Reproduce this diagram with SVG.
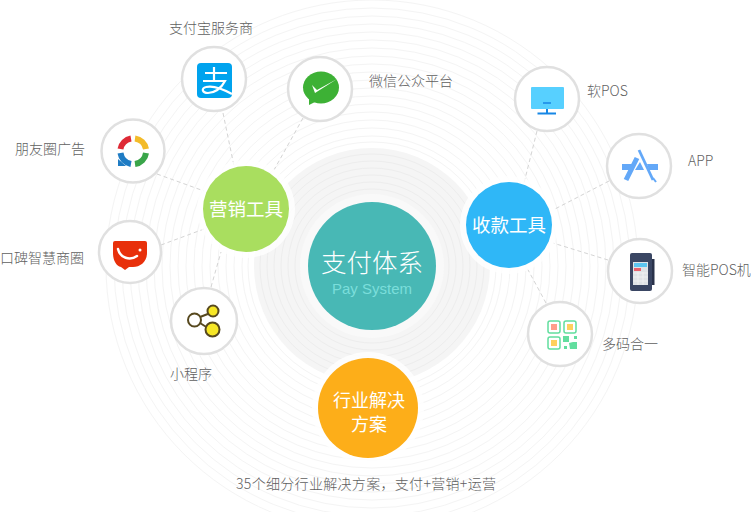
<svg xmlns="http://www.w3.org/2000/svg" width="752" height="512" viewBox="0 0 752 512">
<defs><style>
text{font-family:"Noto Sans CJK SC","Liberation Sans",sans-serif;font-weight:300}
.r{fill:none;stroke:#f4f4f4;stroke-width:1}
.rd{fill:none;stroke:#ededed;stroke-width:1}
.c{stroke:#d4d4d4;stroke-width:1;stroke-dasharray:4 3;fill:none}
.n{fill:#fff;stroke:#e0e0e0;stroke-width:2.5}
.l{font-size:14px;fill:#5f5f5f}
.m{fill:#fff;font-size:18.500px;text-anchor:middle;font-weight:400}
</style></defs>
<rect width="752" height="512" fill="#fff"/>
<g id="rings">
<circle cx="372" cy="266" r="118" fill="#f5f5f5"/>
<circle cx="372" cy="266" r="72" fill="#f9f9f9"/>
<circle class="r" cx="372" cy="266" r="266"/><circle class="r" cx="372" cy="266" r="258"/><circle class="r" cx="372" cy="266" r="250"/><circle class="r" cx="372" cy="266" r="242"/><circle class="r" cx="372" cy="266" r="234"/><circle class="r" cx="372" cy="266" r="226"/><circle class="r" cx="372" cy="266" r="218"/><circle class="r" cx="372" cy="266" r="210"/><circle class="r" cx="372" cy="266" r="202"/><circle class="r" cx="372" cy="266" r="194"/><circle class="r" cx="372" cy="266" r="186"/><circle class="r" cx="372" cy="266" r="178"/><circle class="r" cx="372" cy="266" r="170"/><circle class="r" cx="372" cy="266" r="162"/><circle class="r" cx="372" cy="266" r="154"/><circle class="r" cx="372" cy="266" r="146"/><circle class="r" cx="372" cy="266" r="138"/><circle class="r" cx="372" cy="266" r="130"/><circle class="r" cx="372" cy="266" r="124"/>
<circle class="rd" cx="372" cy="266" r="112"/><circle class="rd" cx="372" cy="266" r="105"/><circle class="rd" cx="372" cy="266" r="98"/><circle class="rd" cx="372" cy="266" r="91"/><circle class="rd" cx="372" cy="266" r="84"/><circle class="rd" cx="372" cy="266" r="77"/>
</g>
<g id="connectors">
<line class="c" x1="223" y1="113" x2="234" y2="166"/>
<line class="c" x1="303" y1="118" x2="274" y2="170"/>
<line class="c" x1="157" y1="174" x2="204" y2="191"/>
<line class="c" x1="161" y1="245" x2="204" y2="229"/>
<line class="c" x1="211" y1="287" x2="221" y2="252"/>
<line class="c" x1="537" y1="131" x2="524" y2="183"/>
<line class="c" x1="609" y1="181" x2="553" y2="210"/>
<line class="c" x1="608" y1="260" x2="553" y2="243"/>
<line class="c" x1="546" y1="303" x2="527" y2="268"/>
</g>
<g id="center"><circle cx="372" cy="266" r="64" fill="#48b8b5"/>
<text x="372" y="272" text-anchor="middle" font-size="25.500" fill="#fff">支付体系</text>
<text x="372" y="294" text-anchor="middle" font-size="15" fill="#7bdedb" style="font-family:'Liberation Sans',sans-serif">Pay System</text></g>
<g id="marketing"><circle cx="246" cy="209" r="49" fill="#fff" fill-opacity=".8"/><circle cx="246" cy="209" r="43" fill="#a9de5f"/><text class="m" x="246" y="216">营销工具</text></g>
<g id="collect"><circle cx="509" cy="225" r="49" fill="#fff" fill-opacity=".8"/><circle cx="509" cy="225" r="43" fill="#2fb7f7"/><text class="m" x="509" y="232">收款工具</text></g>
<g id="industry"><circle cx="368" cy="408" r="56" fill="#fff" fill-opacity=".8"/><circle cx="368" cy="408" r="50" fill="#fdae19"/><text class="m" style="font-size:18px" x="369" y="407">行业解决</text><text class="m" style="font-size:18px" x="369" y="431">方案</text></g>
<g id="alipay"><circle class="n" cx="214" cy="79" r="32"/><rect x="197" y="63" width="35" height="35" rx="4" fill="#00a3ee"/>
<path d="M205 73h22M214 67v15M203 81h22c-4 8-11 12-17 12-6 0-7-5-2-6 8-2 17 2 26 7" fill="none" stroke="#fff" stroke-width="2.200"/></g>
<g id="wechat"><circle class="n" cx="320" cy="89" r="32"/><ellipse cx="321" cy="87.500" rx="18" ry="16" fill="#3db135"/><path d="M309 98l0 7 8-4z" fill="#3db135"/>
<path d="M312 85l5 5 20-11-22 14z" fill="#fff"/></g>
<g id="moments"><circle class="n" cx="133" cy="151" r="31.500"/>
<g fill="none" stroke-width="6"><path d="M120.500 149a13 13 0 0 1 10.500-10.500" stroke="#de2a36"/><path d="M135 138.500a13 13 0 0 1 11 10.500" stroke="#f3bb29"/><path d="M146 153a13 13 0 0 1-11 11" stroke="#3aa54a"/><path d="M120.500 153a13 13 0 0 0 10.500 11" stroke="#1f7cc4"/></g><path d="M118 159l0 7 8 0z" fill="#1f7cc4"/></g>
<g id="koubei"><circle class="n" cx="130" cy="252" r="31"/><path d="M113 243q0-2 2-2h30q2 0 2 2v10c0 9-7 14-14 14h-4l-4 3-4-3c-5-1-8-7-8-14z" fill="#e8300b"/><path d="M118 249c2 9 12 12 19 7" fill="none" stroke="#fff" stroke-width="2.500" stroke-linecap="round"/><circle cx="140" cy="250" r="1.500" fill="#fff"/></g>
<g id="miniapp"><circle class="n" cx="204" cy="321" r="33"/>
<path d="M200 317l13-5M200 323l11 7" stroke="#57491f" stroke-width="2"/>
<circle cx="194.500" cy="320" r="6.500" fill="#fff" stroke="#57491f" stroke-width="2"/><circle cx="213" cy="311" r="5.500" fill="#f7e726" stroke="#57491f" stroke-width="2"/><circle cx="212.500" cy="329.500" r="7" fill="#f7e726" stroke="#57491f" stroke-width="2"/></g>
<g id="softpos"><circle class="n" cx="547" cy="99" r="32"/><rect x="531" y="87" width="33" height="22" rx="1" fill="#57d0ff"/><path d="M543 103h8" stroke="#1787e6" stroke-width="1.500"/><path d="M547 109v4M537.500 113.500h18.500" stroke="#1787e6" stroke-width="2"/></g>
<g id="app"><circle class="n" cx="639" cy="166" r="32"/><path d="M622 164h11l-3 6h-8zM640 162l4 8h-9zM647 164h11v6h-9z" fill="#63a8f8"/><path d="M637 158l-11 22" stroke="#63a8f8" stroke-width="5" fill="none"/><path d="M639 150l14 30" stroke="#63a8f8" stroke-width="2.800" fill="none"/><path d="M653 178l3 4" stroke="#63a8f8" stroke-width="2" fill="none"/></g>
<g id="smartpos"><circle class="n" cx="640" cy="271" r="32"/><rect x="630" y="253" width="22" height="38" rx="2" fill="#3a4663"/><rect x="652" y="259" width="2.500" height="26" fill="#29324a"/><rect x="633" y="262" width="15" height="23" fill="#dfe3e6"/><rect x="634" y="263" width="13" height="4" fill="#5cc5f0"/><rect x="634" y="268" width="7" height="3" fill="#e8616c"/><path d="M633 273h15M633 277h15M633 281h15M638 272v13M643 272v13" stroke="#f2f3f4" stroke-width=".8"/></g>
<g id="multicode"><circle class="n" cx="560" cy="334" r="32"/>
<g fill="#fff" stroke="#62de9f" stroke-width="1.500"><rect x="548" y="321" width="12" height="12" rx="2"/><rect x="564" y="321" width="12" height="12" rx="2"/><rect x="548" y="337" width="12" height="12" rx="2"/></g>
<rect x="551" y="324" width="6" height="6" fill="#ff9e8b"/><rect x="567" y="324" width="6" height="6" fill="#ffd05e"/><rect x="551" y="340" width="6" height="6" fill="#ffd05e"/>
<path d="M563 336h6v6h-6zM574 336h3v3h-3zM564 346h3v3h-3zM569 343l4-1h4v7h-7z" fill="#62de9f"/></g>
<g id="labels">
<text class="l" x="169" y="33">支付宝服务商</text>
<text class="l" x="369" y="86">微信公众平台</text>
<text class="l" x="15" y="154">朋友圈广告</text>
<text class="l" x="0" y="263">口碑智慧商圈</text>
<text class="l" x="170" y="379">小程序</text>
<text class="l" x="587" y="96">软POS</text>
<text class="l" x="688" y="166">APP</text>
<text class="l" x="682" y="275">智能POS机</text>
<text class="l" x="602" y="349">多码合一</text>
<text class="l" x="236" y="489" textLength="260">35个细分行业解决方案，支付+营销+运营</text>
</g>
</svg>
